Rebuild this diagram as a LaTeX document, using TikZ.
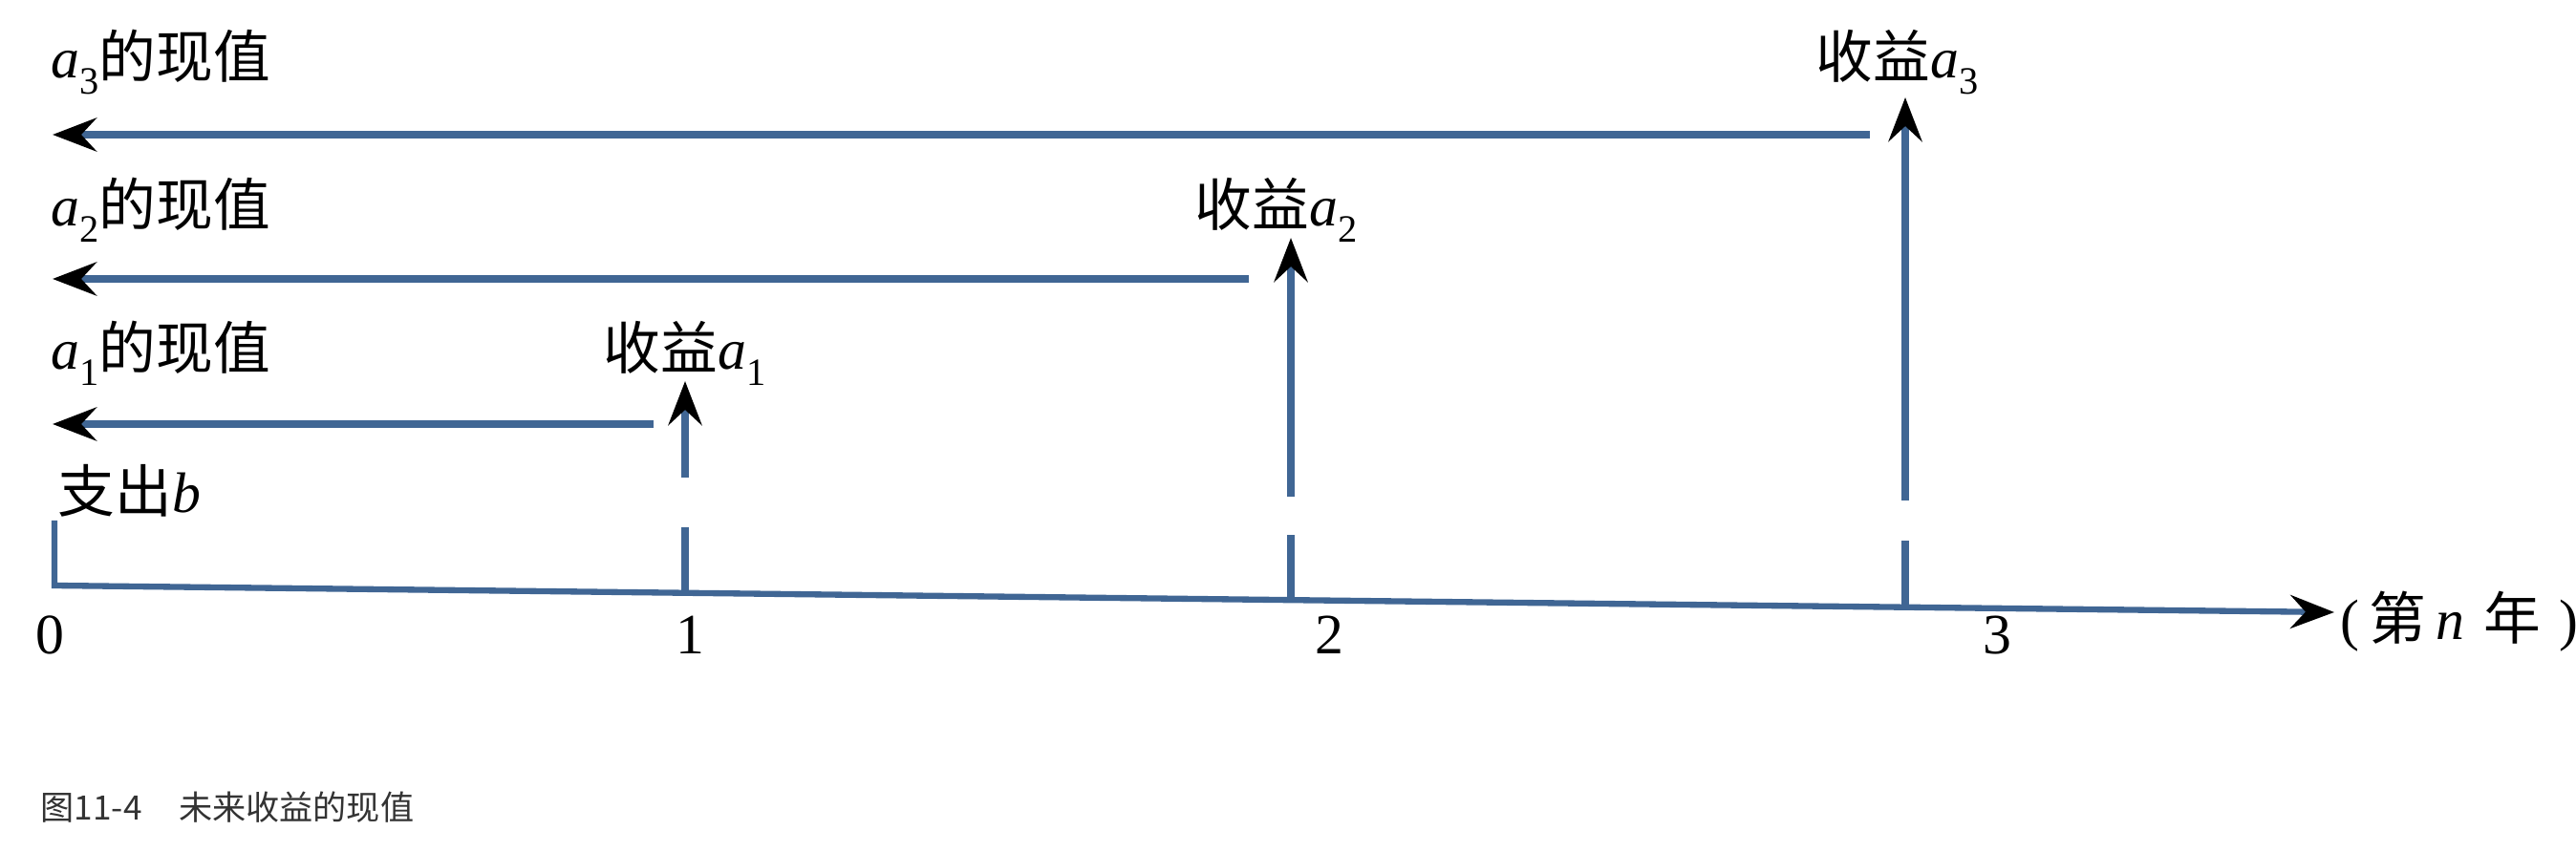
\documentclass[tikz,border=0pt]{standalone}
\usepackage{fontspec}
\setmainfont{Liberation Serif}
\newfontfamily\cjk{Noto Sans CJK SC}
\usetikzlibrary{arrows.meta}
\definecolor{lineblue}{RGB}{64,102,148}
\definecolor{capgray}{RGB}{51,51,51}
\newcommand{\av}[1]{\textit{a}\raisebox{-0.6ex}{\fontsize{11.5}{11.5}\selectfont #1}}

\begin{document}
\begin{tikzpicture}[x=1cm,y=1cm,
  flow/.style={draw=lineblue,line width=2.1pt},
  tip/.style={-{Stealth[length=4.6mm,width=3.5mm,inset=1.6mm,color=black]}},
  lab/.style={inner sep=0pt,anchor=base west,font=\fontsize{17}{19}\selectfont},
  num/.style={inner sep=0pt,anchor=base,font=\fontsize{17}{19}\selectfont},
  capt/.style={inner sep=0pt,anchor=west,text=capgray,font=\cjk\fontsize{10}{12}\selectfont}]
\useasboundingbox (0,0) rectangle (26.96,8.92);
% truc thoi gian
\coordinate (O) at (0.57,2.79);
\coordinate (E) at (24.43,2.51);
\coordinate (bt) at (0.57,3.47);
\draw[flow,line width=1.8pt,tip] (bt) -- (O) -- (E);
% nam 1
\coordinate (t1) at (7.17,2.71);
\coordinate (t1l) at (7.17,3.40);
\coordinate (t1u) at (7.17,3.92);
\coordinate (t1a) at (7.17,4.93);
\draw[flow] (t1) -- (t1l);
\draw[flow,tip] (t1u) -- (t1a);
\coordinate (h1) at (6.84,4.48);
\coordinate (v1) at (0.55,4.48);
\draw[flow,tip] (h1) -- (v1);
% nam 2
\coordinate (t2) at (13.51,2.64);
\coordinate (t2l) at (13.51,3.32);
\coordinate (t2u) at (13.51,3.72);
\coordinate (t2a) at (13.51,6.43);
\draw[flow] (t2) -- (t2l);
\draw[flow,tip] (t2u) -- (t2a);
\coordinate (h2) at (13.07,6.00);
\coordinate (v2) at (0.55,6.00);
\draw[flow,tip] (h2) -- (v2);
% nam 3
\coordinate (t3) at (19.94,2.56);
\coordinate (t3l) at (19.94,3.26);
\coordinate (t3u) at (19.94,3.68);
\coordinate (t3a) at (19.94,7.90);
\draw[flow] (t3) -- (t3l);
\draw[flow,tip] (t3u) -- (t3a);
\coordinate (h3) at (19.57,7.51);
\coordinate (v3) at (0.55,7.51);
\draw[flow,tip] (h3) -- (v3);
% nhan
\node[lab] (pv3) at (0.53,8.10) {\av{3}{\cjk 的现值}};
\node[lab] (pv2) at (0.53,6.55) {\av{2}{\cjk 的现值}};
\node[lab] (pv1) at (0.53,5.05) {\av{1}{\cjk 的现值}};
\node[lab] (r3) at (19.00,8.10) {{\cjk 收益}\av{3}};
\node[lab] (r2) at (12.50,6.55) {{\cjk 收益}\av{2}};
\node[lab] (r1) at (6.31,5.05) {{\cjk 收益}\av{1}};
\node[lab] (cost) at (0.60,3.55) {{\cjk 支出}\textit{b}};
\node[num] (n0) at (0.52,2.07) {0};
\node[num] (n1) at (7.22,2.07) {1};
\node[num] (n2) at (13.91,2.07) {2};
\node[num] (n3) at (20.90,2.07) {3};
\node[lab] (unit) at (24.49,2.22) {(\,{\cjk 第}\,\textit{n}\,\,{\cjk 年}\,\,)};
\node[capt] (cap) at (0.42,0.47) {图11-4\hspace{1.1em}未来收益的现值};
\end{tikzpicture}
\end{document}
